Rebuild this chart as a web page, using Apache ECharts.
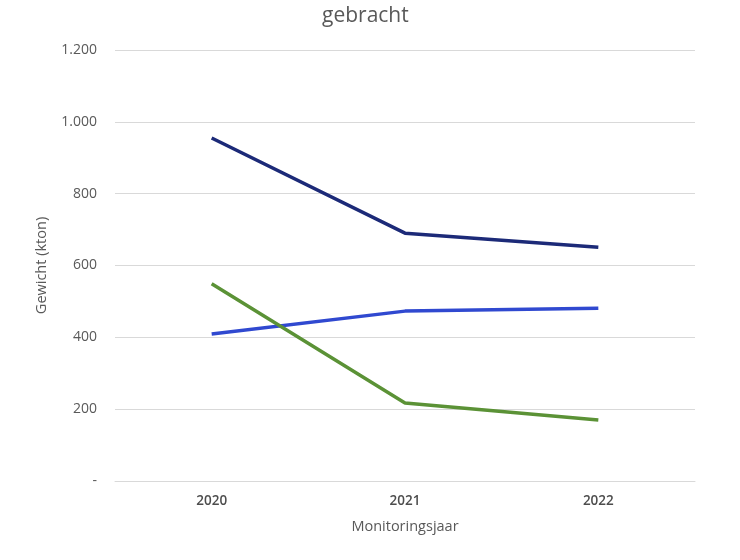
<meta charset="UTF-8">
<script src="https://cdn.jsdelivr.net/npm/echarts@6/dist/echarts.min.js"></script>
<style>body{margin:0;background:#fff;}</style>
<div id="main" style="width: 740px; height: 560px;"></div>
<script>
    var years = ['2020', '2021', '2022'];
    var serieA = [955, 690, 651];
    var serieB = [409, 473, 481];
    var serieC = [549, 217, 170];

    var mychart = echarts.init(document.getElementById('main'));
    var grey = '#595959';
    var font = 'Open Sans';

    function fmt(v) {
        if (v === 0) return '-';
        return String(v).replace(/\B(?=(\d{3})+(?!\d))/g, '.');
    }

    var option = {
        animation: false,
        title: {
            text: 'gebracht',
            left: 317,
            top: 1,
            textStyle: { color: grey, fontFamily: font, fontSize: 21, fontWeight: 'normal' }
        },
        grid: { left: 115, right: 45, top: 50, bottom: 79 },
        xAxis: {
            type: 'category',
            data: years,
            name: 'Monitoringsjaar',
            nameLocation: 'middle',
            nameGap: 38,
            nameTextStyle: { color: grey, fontFamily: font, fontSize: 14.5 },
            axisLine: { lineStyle: { color: '#d9d9d9' } },
            axisTick: { show: false },
            axisLabel: { color: '#4d4d4d', fontFamily: font, fontSize: 13.5, fontWeight: 600, margin: 13 }
        },
        yAxis: {
            type: 'value',
            min: 0,
            max: 1200,
            interval: 200,
            name: 'Gewicht (kton)',
            nameLocation: 'middle',
            nameGap: 66,
            nameTextStyle: { color: grey, fontFamily: font, fontSize: 14.5 },
            axisLine: { show: false },
            axisTick: { show: false },
            axisLabel: { color: grey, fontFamily: font, fontSize: 14, margin: 18, formatter: fmt },
            splitLine: { lineStyle: { color: '#d9d9d9', width: 1 } }
        },
        series: [
            { type: 'line', data: serieA, symbol: 'none', lineStyle: { color: '#1c2a78', width: 3.5 }, itemStyle: { color: '#1c2a78' } },
            { type: 'line', data: serieB, symbol: 'none', lineStyle: { color: '#3049d0', width: 3.5 }, itemStyle: { color: '#3049d0' } },
            { type: 'line', data: serieC, symbol: 'none', lineStyle: { color: '#5b9236', width: 3.5 }, itemStyle: { color: '#5b9236' } }
        ]
    };
    mychart.setOption(option);
</script>
